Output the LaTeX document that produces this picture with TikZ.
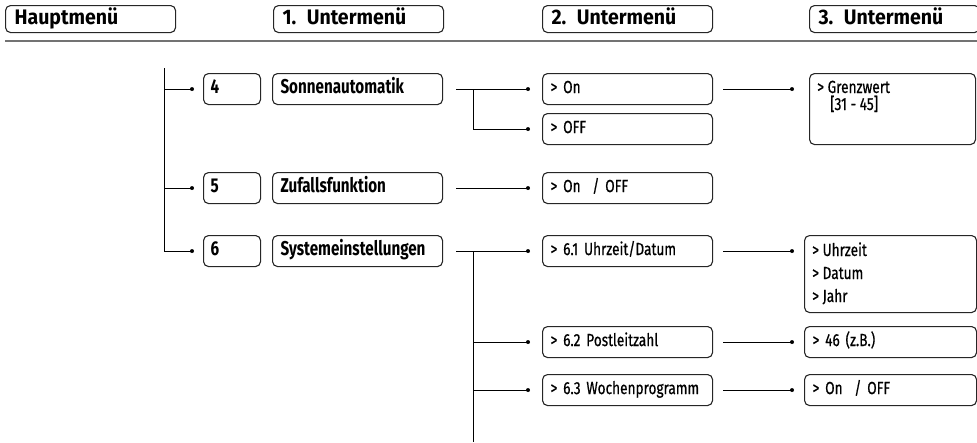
\documentclass[tikz,border=0pt]{standalone}
\usepackage{fontspec}
\setmainfont{Fira Sans}[FakeStretch=0.78, FakeBold=0.6]
\newfontfamily\headfont{Fira Sans}[FakeStretch=0.93]
\newfontfamily\levfont{Fira Sans}[FakeStretch=0.76]
\usetikzlibrary{calc}
\begin{document}
\begin{tikzpicture}[x=1pt,y=-1pt,
  box/.style={draw=black!85, line width=1.1pt, rounded corners=5pt, anchor=north west,
    inner xsep=8pt, inner ysep=0pt, text height=12pt, text depth=4pt, align=left,
    minimum height=31pt, font=\fontsize{17.5}{20}\selectfont},
  wide/.style={text width=154pt},
  bbox/.style={box, text height=13pt, font=\levfont\fontsize{20}{22}\selectfont\bfseries},
  hbox/.style={box, inner xsep=9pt, minimum height=27pt, text height=14pt, text depth=4pt,
    text width=152pt, font=\headfont\fontsize{21}{22}\selectfont\bfseries},
  conn/.style={line width=0.9pt, draw=black},
  dot/.style={circle, fill=black, inner sep=0pt, minimum size=4pt},
  txt/.style={anchor=base west, inner sep=0pt, font=\fontsize{17.5}{20}\selectfont}]
\useasboundingbox (0,0) rectangle (977,442);
\clip (0,0) rectangle (977,442);

% header
\node[hbox] (h0) at (5,5) {Hauptmenü};
\node[hbox] (h1) at (273,5) {1. Untermenü};
\node[hbox] (h2) at (542,5) {2. Untermenü};
\node[hbox, text width=152pt] (h3) at (809,5) {3. Untermenü};
\coordinate (hlL) at (5,41);
\coordinate (hlR) at (977,41);
\draw[line width=2.4pt, draw=black!55] (hlL) -- (hlR);

% level 1
\node[bbox, inner xsep=7pt, text width=43pt] (n4) at (203,73) {4};
\node[bbox, wide] (s4) at (272,73) {Sonnenautomatik};
\node[bbox, inner xsep=7pt, text width=43pt] (n5) at (203,172) {5};
\node[bbox, wide] (s5) at (272,172) {Zufallsfunktion};
\node[bbox, inner xsep=7pt, text width=43pt] (n6) at (203,235) {6};
\node[bbox, wide] (s6) at (272,235) {Systemeinstellungen};

% level 2
\node[box, wide] (on) at (542,73) {> On};
\node[box, wide] (off) at (542,113) {> OFF};
\node[box, wide] (onoff5) at (542,172) {> On\ \ / OFF};
\node[box, wide] (u61) at (542,235) {> 6.1 Uhrzeit/Datum};
\node[box, wide] (u62) at (542,326) {> 6.2 Postleitzahl};
\node[box, wide] (u63) at (542,374) {> 6.3 Wochenprogramm};

% level 3
\node[box, minimum width=166pt, minimum height=71pt] (gw) at (809,73) {};
\node[txt] (gw1) at ([xshift=8pt,yshift=-20pt]gw.north west) {> Grenzwert};
\node[txt] (gw2) at ([xshift=21pt,yshift=-37pt]gw.north west) {[31 - 45]};
\node[box, minimum width=172pt, minimum height=77pt] (uz) at (804,235) {};
\node[txt] (uz1) at ([xshift=8pt,yshift=-21pt]uz.north west) {> Uhrzeit};
\node[txt] (uz2) at ([xshift=8pt,yshift=-44pt]uz.north west) {> Datum};
\node[txt] (uz3) at ([xshift=8pt,yshift=-67pt]uz.north west) {> Jahr};
\node[box, text width=156pt] (plz) at (804,326) {> 46 (z.B.)};
\node[box, text width=156pt] (wp) at (804,374) {> On\ \ / OFF};

% main trunk
\coordinate (trTop) at (164,68);
\coordinate (d4) at ([xshift=-11pt]n4.west);
\coordinate (d5) at ([xshift=-11pt]n5.west);
\coordinate (d6) at ([xshift=-11pt]n6.west);
\draw[conn] (trTop) |- (d6);
\draw[conn] (trTop |- d4) -- (d4);
\draw[conn] (trTop |- d5) -- (d5);
\node[dot] at (d4) {};
\node[dot] at (d5) {};
\node[dot] at (d6) {};

% Sonnenautomatik
\coordinate (a4) at ([xshift=13pt]s4.east);
\coordinate (don) at ([xshift=-14pt]on.west);
\coordinate (doff) at ([xshift=-14pt]off.west);
\coordinate (br4) at (473,0 |- a4);
\draw[conn] (a4) -- (don);
\draw[conn] (a4 -| br4) |- (doff);
\node[dot] at (don) {};
\node[dot] at (doff) {};

% Zufallsfunktion
\coordinate (d5b) at ([xshift=-14pt]onoff5.west);
\draw[conn] ([xshift=13pt]s5.east) -- (d5b);
\node[dot] at (d5b) {};

% Systemeinstellungen
\coordinate (a6) at ([xshift=13pt]s6.east);
\coordinate (d61) at ([xshift=-14pt]u61.west);
\coordinate (d62) at ([xshift=-14pt]u62.west);
\coordinate (d63) at ([xshift=-14pt]u63.west);
\coordinate (end6) at (473,442);
\draw[conn] (a6) -- (d61);
\draw[conn] (a6 -| end6) -- (end6);
\draw[conn] (end6 |- d62) -- (d62);
\draw[conn] (end6 |- d63) -- (d63);
\node[dot] at (d61) {};
\node[dot] at (d62) {};
\node[dot] at (d63) {};

% level 2 -> level 3
\coordinate (dgw) at ([xshift=-17pt]on.east -| gw.west);
\draw[conn] ([xshift=10pt]on.east) -- (dgw);
\node[dot] at (dgw) {};
\coordinate (duz) at ([xshift=-12pt]u61.east -| uz.west);
\draw[conn] ([xshift=10pt]u61.east) -- (duz);
\node[dot] at (duz) {};
\coordinate (dplz) at ([xshift=-12pt]plz.west);
\draw[conn] ([xshift=10pt]u62.east) -- (dplz);
\node[dot] at (dplz) {};
\coordinate (dwp) at ([xshift=-12pt]wp.west);
\draw[conn] ([xshift=10pt]u63.east) -- (dwp);
\node[dot] at (dwp) {};
\end{tikzpicture}
\end{document}
